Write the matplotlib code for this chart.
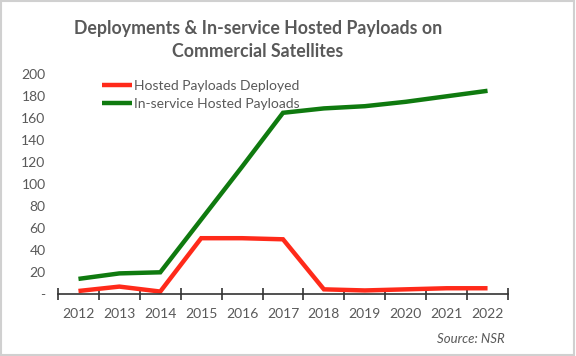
import matplotlib
matplotlib.use("Agg")
import matplotlib.pyplot as plt
from matplotlib.patches import Rectangle
import numpy as np

years = ["2012", "2013", "2014", "2015", "2016", "2017", "2018", "2019", "2020", "2021", "2022"]
deployed = [3, 7, 2.5, 51, 51, 50, 4.5, 3.5, 4.5, 5.5, 5.5]
in_service = [14, 19, 20, 68, 116, 165, 169, 171, 175, 180, 185]
yticks = [0, 20, 40, 60, 80, 100, 120, 140, 160, 180, 200]
ytick_labels = ["-", "20", "40", "60", "80", "100", "120", "140", "160", "180", "200"]

plt.rcParams['font.family'] = ['Lato', 'DejaVu Sans']
gray = '#595959'

fig = plt.figure(figsize=(5.76, 3.56), dpi=100)
ax = fig.add_axes([58/576, 1-294.3/356, 450/576, 220/356])
x = np.arange(len(years))
ax.plot(x, deployed, color='#ff2a1a', lw=3.2, solid_capstyle='butt', solid_joinstyle='miter',
        label='Hosted Payloads Deployed', zorder=3)
ax.plot(x, in_service, color='#0f7a0f', lw=3.2, solid_capstyle='butt', solid_joinstyle='miter',
        label='In-service Hosted Payloads', zorder=3)

ax.set_xlim(-0.5, len(years) - 0.5)
ax.set_ylim(0, 200)
ax.set_xticks(np.arange(-0.5, len(years), 1.0))
ax.set_xticklabels([])
ax.set_xticks(x, minor=True)
ax.set_xticklabels(years, minor=True)
ax.tick_params(axis='x', which='major', direction='inout', length=9, width=1.2, color='#333333')
ax.tick_params(axis='x', which='minor', length=0, pad=10, labelsize=10, labelcolor=gray)
ax.set_yticks(yticks)
ax.set_yticklabels(ytick_labels)
ax.tick_params(axis='y', length=0, pad=9, labelsize=10, labelcolor=gray)
for s in ['top', 'right', 'left']:
    ax.spines[s].set_visible(False)
ax.spines['bottom'].set_color('#333333')
ax.spines['bottom'].set_linewidth(1.2)
ax.spines['bottom'].set_zorder(4)

leg = ax.legend(loc='upper left', bbox_to_anchor=(0.085, 1.0), frameon=False, fontsize=10,
                handlelength=2.2, handletextpad=0.1, labelspacing=0.45, borderaxespad=0)
for t in leg.get_texts():
    t.set_color(gray)

fig.text(258/576, 1-40/356, "Deployments & In-service Hosted Payloads on\nCommercial Satellites",
         ha='center', va='center', fontsize=12.8, fontweight='bold', color=gray, linespacing=1.45)
fig.text(505/576, 1-339/356, "Source: NSR", ha='right', va='center', fontsize=9.5,
         style='italic', color=gray)

fig.add_artist(Rectangle((0.002, 0.003), 0.995, 0.993, transform=fig.transFigure,
                         fill=False, edgecolor='#d0d0d0', lw=1.5))
fig.savefig("out.png", dpi=100)
